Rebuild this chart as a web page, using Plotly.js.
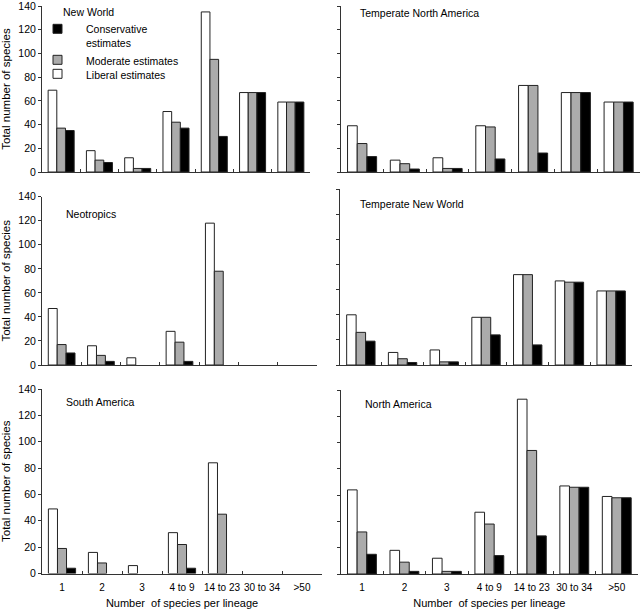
<!DOCTYPE html>
<html>
<head>
<meta charset="utf-8">
<script src="https://cdn.plot.ly/plotly-3.0.1.min.js"></script>
<style>html,body{margin:0;padding:0;background:#fff;}#chart{width:642px;height:610px;}</style>
</head>
<body>
<div id="chart"></div>
<script>
const categories = ['1', '2', '3', '4 to 9', '14 to 23', '30 to 34', '>50'];

const newWorldLiberal = [69, 18, 12, 51, 135, 67, 59];
const newWorldModerate = [37, 10, 3, 42, 95, 67, 59];
const newWorldConservative = [35, 8, 3, 37, 30, 67, 59];

const tempNorthAmLiberal = [39, 10, 12, 39, 73, 67, 59];
const tempNorthAmModerate = [24, 7, 3, 38, 73, 67, 59];
const tempNorthAmConservative = [13, 2.5, 3, 11, 16, 67, 59];

const neotropicsLiberal = [47, 16, 6, 28, 118, null, null];
const neotropicsModerate = [17, 8, null, 19, 78, null, null];
const neotropicsConservative = [10, 3, null, 3, null, null, null];

const tempNewWorldLiberal = [40, 10, 12, 38, 72, 67, 59];
const tempNewWorldModerate = [26, 5, 2.5, 38, 72, 66, 59];
const tempNewWorldConservative = [19, 2, 2.5, 24, 16, 66, 59];

const southAmLiberal = [49, 16, 6, 31, 84, null, null];
const southAmModerate = [19, 8, null, 22, 45, null, null];
const southAmConservative = [4, null, null, 4, null, null, null];

const northAmLiberal = [64, 18, 12, 47, 133, 67, 59];
const northAmModerate = [32, 9, 2, 38, 94, 66, 58];
const northAmConservative = [15, 2, 2, 14, 29, 66, 58];

const panelTitles = ['New World', 'Temperate North America', 'Neotropics', 'Temperate New World', 'South America', 'North America'];
const seriesNames = ['Liberal estimates', 'Moderate estimates', 'Conservative<br>estimates'];
const yTitle = 'Total number of species';
const xTitle = 'Number&nbsp; of species per lineage';

const panels = [
  [newWorldLiberal, newWorldModerate, newWorldConservative],
  [tempNorthAmLiberal, tempNorthAmModerate, tempNorthAmConservative],
  [neotropicsLiberal, neotropicsModerate, neotropicsConservative],
  [tempNewWorldLiberal, tempNewWorldModerate, tempNewWorldConservative],
  [southAmLiberal, southAmModerate, southAmConservative],
  [northAmLiberal, northAmModerate, northAmConservative]
];

const W = 642, H = 610;
// pixel boxes [left, right, top, bottom]
const boxes = [
  [42, 310, 6, 172],
  [340.7, 640, 6, 172],
  [42, 317, 196.7, 365],
  [340, 632, 189.3, 365],
  [42, 322, 389, 573.5],
  [340.7, 638, 390, 574]
];
const titlePos = [[61, 12], [357.7, 13], [64, 214], [357.7, 204], [64, 402], [363, 404]];
const fills = ['#ffffff', '#ababab', '#000000'];
const legendIds = ['legend3', 'legend2', 'legend'];
const legendY = [75, 61, 36];
const FONT = 'Liberation Sans, Arial, sans-serif';

const traces = [];
const layout = {
  width: W, height: H,
  margin: {l: 0, r: 0, t: 0, b: 0},
  paper_bgcolor: '#fff', plot_bgcolor: 'rgba(0,0,0,0)',
  font: {family: FONT, size: 11, color: '#000'},
  barmode: 'group', bargap: 0.32, bargroupgap: 0,
  showlegend: true,
  annotations: []
};
legendIds.forEach((id, s) => {
  layout[id] = {
    x: 29 / W, y: 1 - legendY[s] / H, xanchor: 'left', yanchor: 'middle',
    valign: 'top', bgcolor: 'rgba(0,0,0,0)', itemwidth: 47,
    font: {family: FONT, size: 10.5, color: '#000'}
  };
});

panels.forEach((p, i) => {
  const n = i + 1;
  const xa = 'x' + (n === 1 ? '' : n), ya = 'y' + (n === 1 ? '' : n);
  p.forEach((vals, s) => {
    traces.push({
      type: 'bar', x: categories, y: vals, name: seriesNames[s],
      xaxis: xa, yaxis: ya, showlegend: false,
      marker: {color: fills[s], line: {color: '#222', width: 1}},
      hoverinfo: 'skip'
    });
  });
  const b = boxes[i];
  const left = i % 2 === 0;
  const bottom = i >= 4;
  layout['xaxis' + (n === 1 ? '' : n)] = {
    domain: [b[0] / W, b[1] / W], anchor: ya,
    type: 'category', range: [-0.5, 6.5],
    showline: true, linecolor: '#333', linewidth: 1, mirror: false,
    ticks: 'inside', tickson: 'boundaries', ticklen: 3, tickcolor: '#333',
    showgrid: false, zeroline: false,
    showticklabels: bottom, tickangle: 0, ticklabeloverflow: 'allow',
    ticklabelstandoff: 4,
    tickfont: {family: FONT, size: 10, color: '#000'},
    title: bottom ? {text: xTitle, font: {family: FONT, size: 11, color: '#000'}, standoff: 7} : {text: ''}
  };
  layout['yaxis' + (n === 1 ? '' : n)] = {
    domain: [1 - b[3] / H, 1 - b[2] / H], anchor: xa,
    range: [0, 140], dtick: 20,
    showline: true, linecolor: '#333', linewidth: 1,
    ticks: 'outside', ticklen: 3, tickcolor: '#333',
    showgrid: false, zeroline: false,
    showticklabels: left, ticklabeloverflow: 'allow',
    tickfont: {family: FONT, size: 10.5, color: '#000'},
    title: left ? {text: yTitle, font: {family: FONT, size: 11.5, color: '#000'}, standoff: 6} : {text: ''}
  };
  layout.annotations.push({
    text: panelTitles[i], xref: 'paper', yref: 'paper',
    x: titlePos[i][0] / W, y: 1 - titlePos[i][1] / H,
    xanchor: 'left', yanchor: 'middle', showarrow: false,
    font: {family: FONT, size: 10.5, color: '#000'}
  });
});

// legend keys (one per series, shown in the first panel's legend area)
seriesNames.forEach((name, s) => {
  traces.push({
    type: 'scatter', mode: 'markers', x: [null], y: [null], name: name,
    xaxis: 'x', yaxis: 'y', legend: legendIds[s], showlegend: true,
    marker: {symbol: 'square', size: 9, color: fills[s], line: {color: '#222', width: 1}},
    hoverinfo: 'skip'
  });
});

Plotly.newPlot('chart', traces, layout, {staticPlot: true, displayModeBar: false});
</script>
</body>
</html>
